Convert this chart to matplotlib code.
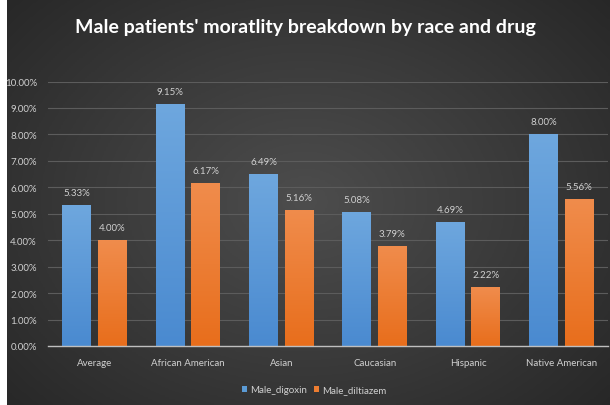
import numpy as np
import matplotlib.pyplot as plt
from matplotlib.patches import Rectangle
from matplotlib.colors import LinearSegmentedColormap

categories = ['Average', 'African American', 'Asian', 'Caucasian', 'Hispanic', 'Native American']
digoxin = [5.33, 9.15, 6.49, 5.08, 4.69, 8.00]
diltiazem = [4.00, 6.17, 5.16, 3.79, 2.22, 5.56]
series_names = ['Male_digoxin', 'Male_diltiazem']
yticks = np.arange(0, 11, 1)

plt.rcParams['font.family'] = ['Lato', 'DejaVu Sans']

fig = plt.figure(figsize=(6.1, 4.06), dpi=100)

# dark radial background
bg = fig.add_axes([0, 0, 1, 1], zorder=-10)
gx, gy = np.meshgrid(np.linspace(-1, 1, 300), np.linspace(-1, 1, 200))
r = np.sqrt((gx * 0.9) ** 2 + (gy * 0.8) ** 2)
bg_cmap = LinearSegmentedColormap.from_list('bg', ['#4d4d4d', '#3a3a3a', '#262626'])
bg.imshow(r, cmap=bg_cmap, aspect='auto', extent=[0, 1, 0, 1], vmin=0, vmax=1.25)
bg.set_axis_off()
fig.patches.append(Rectangle((0, 0), 7 / 610, 1, transform=fig.transFigure,
                             facecolor='white', edgecolor='none', zorder=5))

ax = fig.add_axes([48 / 610, 59 / 406, 560 / 610, 264.5 / 406])
ax.set_facecolor('none')

x = np.arange(len(categories))
w = 0.31
off = 0.19
b1 = ax.bar(x - off, digoxin, w, color='#5b9bd5', zorder=3)
b2 = ax.bar(x + off, diltiazem, w, color='#ed7d31', zorder=3)

# soft vertical shading on each bar
blue_cm = LinearSegmentedColormap.from_list('bl', ['#4a8ad0', '#6ea7de'])
orange_cm = LinearSegmentedColormap.from_list('or', ['#e86e1c', '#f08c4c'])
grad = np.linspace(0, 1, 100).reshape(-1, 1)
for bars, cm in ((b1, blue_cm), (b2, orange_cm)):
    for bar in bars:
        bx, by = bar.get_x(), bar.get_y()
        im = ax.imshow(grad, cmap=cm, origin='lower', aspect='auto', zorder=4,
                       extent=[bx, bx + bar.get_width(), by, by + bar.get_height()])
        im.set_clip_path(bar)

for bars, vals in ((b1, digoxin), (b2, diltiazem)):
    for bar, v in zip(bars, vals):
        ax.text(bar.get_x() + bar.get_width() / 2, v + 0.3, f'{v:.2f}%',
                ha='center', va='bottom', color='#d0d0d0', fontsize=7)

ax.set_xlim(-0.5, len(categories) - 0.5)
ax.set_ylim(0, 10)
ax.set_yticks(yticks)
ax.set_yticklabels([f'{t:.2f}%' for t in yticks])
ax.set_xticks(x)
ax.set_xticklabels(categories)
ax.tick_params(colors='#d0d0d0', labelsize=7, length=0)
ax.tick_params(axis='x', pad=9)
ax.tick_params(axis='y', pad=8)
ax.grid(axis='y', color='#5c5c5c', linewidth=0.8, zorder=0)
for s in ('top', 'right', 'left'):
    ax.spines[s].set_visible(False)
ax.spines['bottom'].set_color('#bfbfbf')
ax.spines['bottom'].set_linewidth(1.0)
ax.spines['bottom'].set_zorder(5)

leg = fig.legend([b1, b2], series_names, loc='center', bbox_to_anchor=(314 / 610, 15 / 406),
                 ncol=2, frameon=False, fontsize=7, handlelength=0.55, handleheight=0.55,
                 handletextpad=0.3, columnspacing=0.7)
for t in leg.get_texts():
    t.set_color('#d0d0d0')

fig.text(0.5, 1 - 28 / 406, "Male patients' moratlity breakdown by race and drug",
         ha='center', va='center', color='white', fontsize=14, fontweight='bold')

fig.savefig('out.png', dpi=100)
